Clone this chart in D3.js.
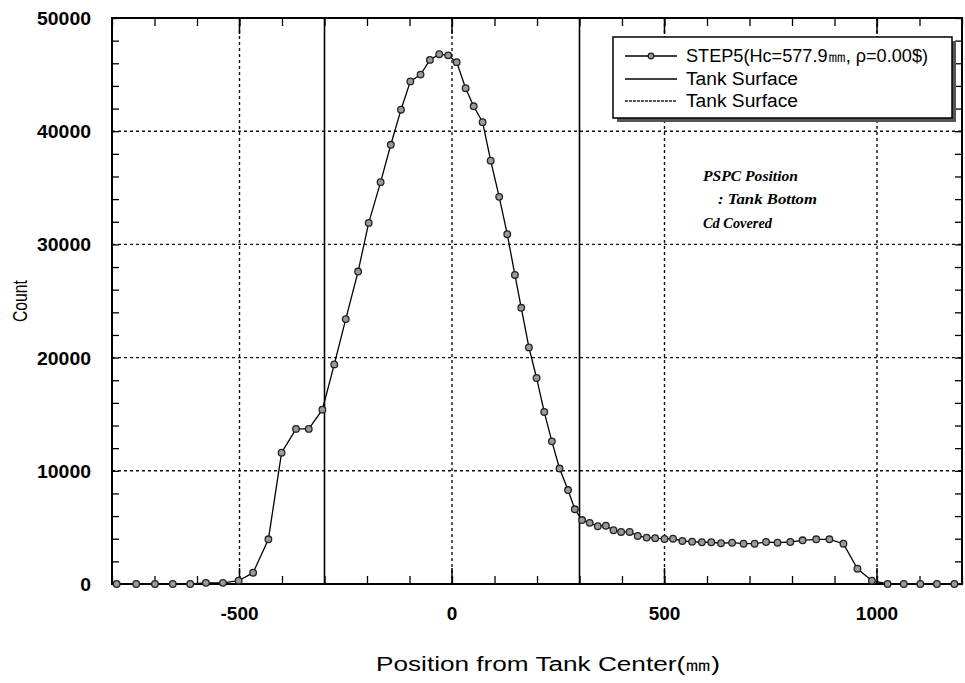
<!DOCTYPE html>
<html>
<head>
<meta charset="utf-8">
<script src="https://cdn.jsdelivr.net/npm/d3@7"></script>
<style>
  html, body { margin: 0; padding: 0; background: #fff; }
  svg { display: block; }
</style>
</head>
<body>
<svg id="chart" width="965" height="683"></svg>
<script>
// ---- Data ----
const positions = [-789, -743, -699, -657, -616, -579, -539, -502, -468, -432, -401, -367, -337, -305,
  -277, -250, -221, -196, -168, -144, -120, -98, -74, -52, -30, -9, 11, 32, 51, 72, 91, 111, 130, 148,
  163, 181, 199, 217, 235, 253, 273, 289, 306, 324, 343, 362, 380, 398, 418, 437, 458, 478, 500, 520,
  542, 565, 588, 610, 633, 659, 686, 712, 739, 766, 796, 825, 857, 888, 921, 954, 988, 1025, 1063,
  1102, 1141, 1182];
const counts = [0, 0, 0, 0, 0, 100, 100, 290, 1000, 3950, 11600, 13700, 13700, 15400,
  19400, 23400, 27600, 31900, 35500, 38800, 41900, 44400, 45000, 46300, 46800, 46700, 46100, 43800,
  42200, 40800, 37400, 34200, 30900, 27300, 24400, 20900, 18200, 15200, 12600, 10200, 8300, 6600,
  5650, 5400, 5100, 5150, 4750, 4600, 4600, 4250, 4100, 4050, 3980, 4000, 3800, 3740, 3690, 3690,
  3600, 3650, 3560, 3560, 3710, 3650, 3710, 3860, 3950, 3950, 3560, 1350, 290, 0, 0, 0, 0, 0];
const tankSurfaces = [-300, 300];
const xTicks = [-500, 0, 500, 1000];
const yTicks = [0, 10000, 20000, 30000, 40000, 50000];
const seriesLabel = "STEP5(Hc=577.9㎜, ρ=0.00$)";
const surfaceLabel = "Tank Surface";
const notes = ["PSPC Position", ": Tank Bottom", "Cd Covered"];

// ---- Layout ----
const L = 112, R = 962, T = 18, B = 584;
const svg = d3.select("#chart");
const x = d3.scaleLinear().domain([-800, 1200]).range([L, R]);
const y = d3.scaleLinear().domain([0, 50000]).range([B, T]);

const g = svg.append("g");

// grid lines
g.selectAll(".gx").data(xTicks).join("line")
  .attr("x1", d => x(d)).attr("x2", d => x(d)).attr("y1", T).attr("y2", B)
  .attr("stroke", "#111").attr("stroke-width", 1.4).attr("stroke-dasharray", "3,3");
g.selectAll(".gy").data(yTicks.filter(v => v > 0 && v < 50000)).join("line")
  .attr("x1", L).attr("x2", R).attr("y1", d => y(d)).attr("y2", d => y(d))
  .attr("stroke", "#111").attr("stroke-width", 1.4).attr("stroke-dasharray", "3,3");

// tank surface lines
g.selectAll(".ts").data(tankSurfaces).join("line")
  .attr("x1", d => x(d)).attr("x2", d => x(d)).attr("y1", T).attr("y2", B)
  .attr("stroke", "#000").attr("stroke-width", 1.6);

// axes with inward ticks
const xMinor = d3.range(-800, 1201, 100);
const yMinor = d3.range(0, 50001, 2000);
const bottomAxis = d3.axisBottom(x).tickValues(xMinor).tickSize(-8).tickFormat("");
const topAxis = d3.axisTop(x).tickValues(xMinor).tickSize(-8).tickFormat("");
const leftAxis = d3.axisLeft(y).tickValues(yMinor).tickSize(-7).tickFormat("");
const rightAxis = d3.axisRight(y).tickValues(yMinor).tickSize(-7).tickFormat("");
function styleAx(sel) {
  sel.select(".domain").remove();
  sel.selectAll("line").attr("stroke", "#000").attr("stroke-width", 1.3);
}
g.append("g").attr("transform", `translate(0,${B})`).call(bottomAxis).call(styleAx);
g.append("g").attr("transform", `translate(0,${T})`).call(topAxis).call(styleAx);
g.append("g").attr("transform", `translate(${L},0)`).call(leftAxis).call(styleAx);
g.append("g").attr("transform", `translate(${R},0)`).call(rightAxis).call(styleAx);
// longer major ticks
g.selectAll(".mxb").data(xTicks).join("line")
  .attr("x1", d => x(d)).attr("x2", d => x(d)).attr("y1", B).attr("y2", B - 16)
  .attr("stroke", "#000").attr("stroke-width", 1.5);
g.selectAll(".mxt").data(xTicks).join("line")
  .attr("x1", d => x(d)).attr("x2", d => x(d)).attr("y1", T).attr("y2", T + 16)
  .attr("stroke", "#000").attr("stroke-width", 1.5);

// frame
g.append("rect").attr("x", L).attr("y", T).attr("width", R - L).attr("height", B - T)
  .attr("fill", "none").attr("stroke", "#000").attr("stroke-width", 2);

// tick labels
const tickFont = "'Liberation Sans', Arial, sans-serif";
g.selectAll(".xl").data(xTicks).join("text")
  .attr("x", d => x(d)).attr("y", 620).attr("text-anchor", "middle")
  .attr("font-family", tickFont).attr("font-weight", "bold").attr("font-size", 19)
  .text(d => d3.format("d")(d).replace("−", "-"));
g.selectAll(".yl").data(yTicks).join("text")
  .attr("x", 91).attr("y", d => y(d) + 7).attr("text-anchor", "end")
  .attr("font-family", tickFont).attr("font-weight", "bold").attr("font-size", 19)
  .attr("textLength", d => String(d).length * 10.8).attr("lengthAdjust", "spacingAndGlyphs")
  .text(d => d);

// axis titles
const titleFont = "'Liberation Sans Narrow', 'Liberation Sans', sans-serif";
svg.append("text").attr("x", 376).attr("y", 671)
  .attr("font-family", titleFont).attr("font-size", 20)
  .attr("textLength", 344).attr("lengthAdjust", "spacingAndGlyphs")
  .text("Position from Tank Center(㎜)");
svg.append("text").attr("transform", "translate(27,301) rotate(-90)")
  .attr("text-anchor", "middle")
  .attr("font-family", titleFont).attr("font-size", 20)
  .attr("textLength", 42).attr("lengthAdjust", "spacingAndGlyphs")
  .text("Count");

// data line + markers
const line = d3.line().x((d, i) => x(positions[i])).y(d => y(d));
g.append("path").datum(counts).attr("d", line)
  .attr("fill", "none").attr("stroke", "#000").attr("stroke-width", 1.3);
g.selectAll(".pt").data(counts).join("circle")
  .attr("cx", (d, i) => x(positions[i])).attr("cy", d => y(d)).attr("r", 3.3)
  .attr("fill", "#9a9a9a").attr("stroke", "#222").attr("stroke-width", 1.3);

// legend
const lg = svg.append("g");
lg.append("rect").attr("x", 617).attr("y", 41).attr("width", 339).attr("height", 81).attr("fill", "#555");
lg.append("rect").attr("x", 613).attr("y", 37).attr("width", 339).attr("height", 81)
  .attr("fill", "#fff").attr("stroke", "#000").attr("stroke-width", 1.5);
const legFont = "'Liberation Sans Narrow', 'Liberation Sans', sans-serif";
lg.append("line").attr("x1", 625).attr("x2", 677).attr("y1", 56).attr("y2", 56)
  .attr("stroke", "#000").attr("stroke-width", 1.3);
lg.append("circle").attr("cx", 651).attr("cy", 56).attr("r", 2.8)
  .attr("fill", "#9a9a9a").attr("stroke", "#222").attr("stroke-width", 1.2);
lg.append("line").attr("x1", 625).attr("x2", 677).attr("y1", 79).attr("y2", 79)
  .attr("stroke", "#000").attr("stroke-width", 1.3);
lg.append("line").attr("x1", 625).attr("x2", 677).attr("y1", 101).attr("y2", 101)
  .attr("stroke", "#222").attr("stroke-width", 1.3).attr("stroke-dasharray", "3,1");
lg.append("text").attr("x", 686).attr("y", 62).attr("font-family", legFont).attr("font-size", 18)
  .attr("textLength", 242).attr("lengthAdjust", "spacingAndGlyphs").text(seriesLabel);
lg.append("text").attr("x", 686).attr("y", 85).attr("font-family", legFont).attr("font-size", 18)
  .attr("textLength", 112).attr("lengthAdjust", "spacingAndGlyphs").text(surfaceLabel);
lg.append("text").attr("x", 686).attr("y", 107).attr("font-family", legFont).attr("font-size", 18)
  .attr("textLength", 112).attr("lengthAdjust", "spacingAndGlyphs").text(surfaceLabel);

// annotation
const noteFont = "'Liberation Serif', 'Times New Roman', serif";
const notePos = [[703, 181, 95], [718, 204, 99], [703, 228, 69]];
svg.selectAll(".note").data(notes).join("text")
  .attr("x", (d, i) => notePos[i][0]).attr("y", (d, i) => notePos[i][1])
  .attr("font-family", noteFont).attr("font-style", "italic").attr("font-weight", "bold")
  .attr("font-size", 15)
  .attr("textLength", (d, i) => notePos[i][2]).attr("lengthAdjust", "spacingAndGlyphs")
  .text(d => d);
</script>
</body>
</html>
